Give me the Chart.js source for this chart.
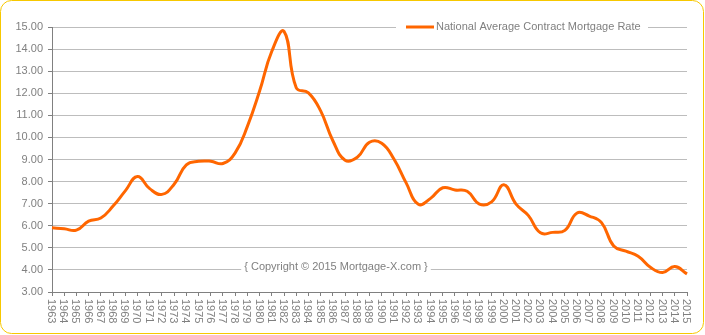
<!DOCTYPE html>
<html>
<head>
<meta charset="utf-8">
<script src="https://cdn.jsdelivr.net/npm/chart.js@4.4.1/dist/chart.umd.min.js"></script>
<style>
  html, body { margin: 0; padding: 0; background: #fff; }
  canvas { display: block; }
</style>
</head>
<body>
<canvas id="rateChart" width="705" height="335"></canvas>
<script>
// yearly national average contract mortgage rate
const years = [
  '1963', '1964', '1965', '1966', '1967', '1968', '1969', '1970', '1971', '1972',
  '1973', '1974', '1975', '1976', '1977', '1978', '1979', '1980', '1981', '1982',
  '1983', '1984', '1985', '1986', '1987', '1988', '1989', '1990', '1991', '1992',
  '1993', '1994', '1995', '1996', '1997', '1998', '1999', '2000', '2001', '2002',
  '2003', '2004', '2005', '2006', '2007', '2008', '2009', '2010', '2011', '2012',
  '2013', '2014', '2015'
];
const rates = [
  5.91, 5.86, 5.80, 6.21, 6.35, 6.89, 7.58, 8.23, 7.68, 7.42,
  7.88, 8.76, 8.92, 8.92, 8.82, 9.30, 10.50, 12.10, 13.90, 14.80,
  12.25, 12.02, 11.20, 9.85, 8.97, 9.10, 9.78, 9.74, 9.02, 7.94,
  6.97, 7.24, 7.72, 7.62, 7.56, 6.98, 7.08, 7.86, 6.98, 6.47,
  5.68, 5.70, 5.79, 6.58, 6.44, 6.14, 5.08, 4.85, 4.62, 4.12,
  3.88, 4.15, 3.82
];
const seriesName = 'National Average Contract Mortgage Rate';
const copyright = '{ Copyright \u00a9 2015 Mortgage-X.com }';

const lineColor = '#FF6600';
const textColor = '#808080';
const font = '11px "Liberation Sans", Arial, sans-serif';

// frame, legend box, copyright and the rotated year labels
const decorations = {
    id: 'decorations',
    beforeDraw(chart) {
        const ctx = chart.ctx;
        ctx.save();
        ctx.strokeStyle = '#F7C800';
        ctx.lineWidth = 1;
        ctx.beginPath();
        ctx.roundRect(0.5, 0.5, 703, 333, 11);
        ctx.stroke();
        ctx.restore();
    },
    beforeDatasetsDraw(chart) {
        const ctx = chart.ctx;
        const yScale = chart.scales.y;
        ctx.save();
        ctx.font = font;
        ctx.textBaseline = 'middle';

        // legend sitting on top of the plot
        const ly = yScale.getPixelForValue(15);
        ctx.fillStyle = '#fff';
        ctx.fillRect(396, ly - 6, 252, 12);
        ctx.strokeStyle = lineColor;
        ctx.lineWidth = 3;
        ctx.beginPath();
        ctx.moveTo(406, ly);
        ctx.lineTo(434, ly);
        ctx.stroke();
        ctx.fillStyle = textColor;
        ctx.textAlign = 'left';
        ctx.fillText(seriesName, 436, ly);

        // copyright note
        const cy = yScale.getPixelForValue(4) - 3;
        const w = ctx.measureText(copyright).width;
        const cx = 336;
        ctx.fillStyle = '#fff';
        ctx.fillRect(cx - w / 2 - 3, cy - 7, w + 6, 14);
        ctx.fillStyle = textColor;
        ctx.textAlign = 'center';
        ctx.fillText(copyright, cx, cy);
        ctx.restore();
    },
    afterDraw(chart) {
        const ctx = chart.ctx;
        const xScale = chart.scales.x;
        ctx.save();
        ctx.font = font;
        ctx.fillStyle = textColor;
        ctx.textAlign = 'left';
        ctx.textBaseline = 'middle';
        years.forEach((yr, i) => {
            const x = xScale.getPixelForTick(i);
            ctx.save();
            ctx.translate(x - 1, xScale.top + 7);
            ctx.rotate(Math.PI / 2);
            ctx.fillText(yr, 0, 0);
            ctx.restore();
        });
        ctx.restore();
    }
};

new Chart(document.getElementById('rateChart'), {
    type: 'line',
    data: {
        labels: years,
        datasets: [{
            label: seriesName,
            data: rates,
            borderColor: lineColor,
            backgroundColor: lineColor,
            borderWidth: 3,
            pointRadius: 0,
            tension: 0.45,
            fill: false
        }]
    },
    options: {
        responsive: false,
        animation: false,
        devicePixelRatio: 1,
        layout: {
            padding: { left: 0, top: 27, right: 18, bottom: 0 }
        },
        plugins: {
            legend: { display: false },
            tooltip: { enabled: false }
        },
        scales: {
            x: {
                offset: false,
                afterFit(scale) { scale.height = 43; },
                ticks: { display: false },
                grid: {
                    display: true,
                    drawOnChartArea: false,
                    drawTicks: true,
                    tickLength: 4,
                    tickColor: '#808080'
                },
                border: { color: '#808080', width: 1 }
            },
            y: {
                min: 3,
                max: 15,
                afterFit(scale) { scale.width = 52; },
                ticks: {
                    stepSize: 1,
                    color: textColor,
                    font: { family: '"Liberation Sans", Arial, sans-serif', size: 11 },
                    padding: 5,
                    callback: v => Number(v).toFixed(2)
                },
                grid: {
                    color: '#BDBDBD',
                    tickLength: 4,
                    tickColor: '#808080'
                },
                border: { color: '#808080', width: 1 }
            }
        }
    },
    plugins: [decorations]
});
</script>
</body>
</html>
